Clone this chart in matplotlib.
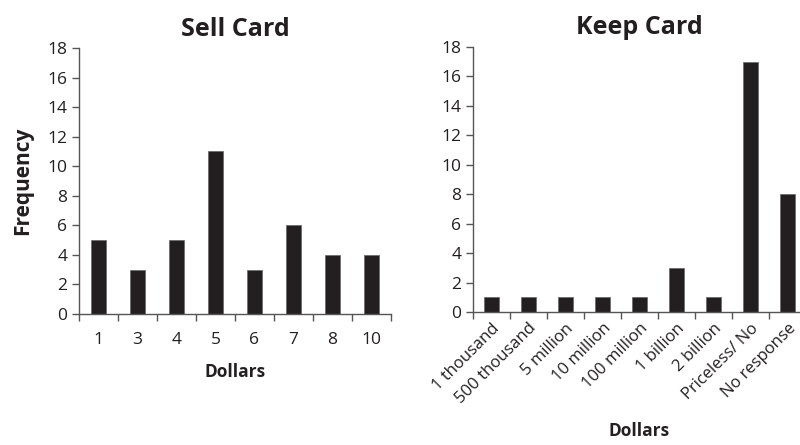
import matplotlib.pyplot as plt
import numpy as np

plt.rcParams['font.family'] = ['Open Sans', 'DejaVu Sans']

sell_labels = ['1', '3', '4', '5', '6', '7', '8', '10']
sell_counts = [5, 3, 5, 11, 3, 6, 4, 4]

keep_labels = ['1 thousand', '500 thousand', '5 million', '10 million',
               '100 million', '1 billion', '2 billion', 'Priceless/ No',
               'No response']
keep_counts = [1, 1, 1, 1, 1, 3, 1, 17, 8]

bar_color = '#231f20'
text_color = '#231f20'

fig = plt.figure(figsize=(8, 4.45), dpi=100)
W, H = 800, 445


def make_axes(left, right, top, bottom):
    return fig.add_axes([left / W, 1 - bottom / H, (right - left) / W, (bottom - top) / H])


def style(ax, labels, counts):
    n = len(labels)
    x = np.arange(n)
    ax.bar(x, counts, width=0.4, color=bar_color, edgecolor='#666666', linewidth=0.5)
    ax.set_xlim(-0.5, n - 0.5)
    ax.set_ylim(0, 18)
    ax.set_yticks(range(0, 19, 2))
    ax.set_xticks(np.arange(n + 1) - 0.5)
    ax.set_xticklabels([])
    ax.set_xticks(x, minor=True)
    ax.tick_params(axis='x', which='minor', length=0, pad=13)
    ax.tick_params(axis='both', which='major', direction='out', length=5,
                   width=1, color='#555555', labelsize=12.5, labelcolor=text_color)
    for s in ['top', 'right']:
        ax.spines[s].set_visible(False)
    for s in ['left', 'bottom']:
        ax.spines[s].set_color('#555555')
        ax.spines[s].set_linewidth(1)
    return x


ax1 = make_axes(79, 391, 48, 314)
x1 = style(ax1, sell_labels, sell_counts)
ax1.set_xticklabels(sell_labels, minor=True, fontsize=12.5, color=text_color)
ax1.set_title('Sell Card', fontsize=18, fontweight='bold', color=text_color, pad=9)
ax1.set_xlabel('Dollars', fontsize=12.5, fontweight='bold', color=text_color, labelpad=11)
ax1.set_ylabel('Frequency', fontsize=15, fontweight='bold', color=text_color, labelpad=10)

ax2 = make_axes(473, 806, 47, 312)
x2 = style(ax2, keep_labels, keep_counts)
ax2.set_xticklabels(keep_labels, minor=True, fontsize=12, color=text_color,
                    rotation=45, ha='right', rotation_mode='anchor')
ax2.tick_params(axis='x', which='minor', pad=6)
ax2.set_title('Keep Card', fontsize=18, fontweight='bold', color=text_color, pad=9)
ax2.set_xlabel('Dollars', fontsize=12.5, fontweight='bold', color=text_color, labelpad=11)

fig.savefig('out.png', dpi=100)
